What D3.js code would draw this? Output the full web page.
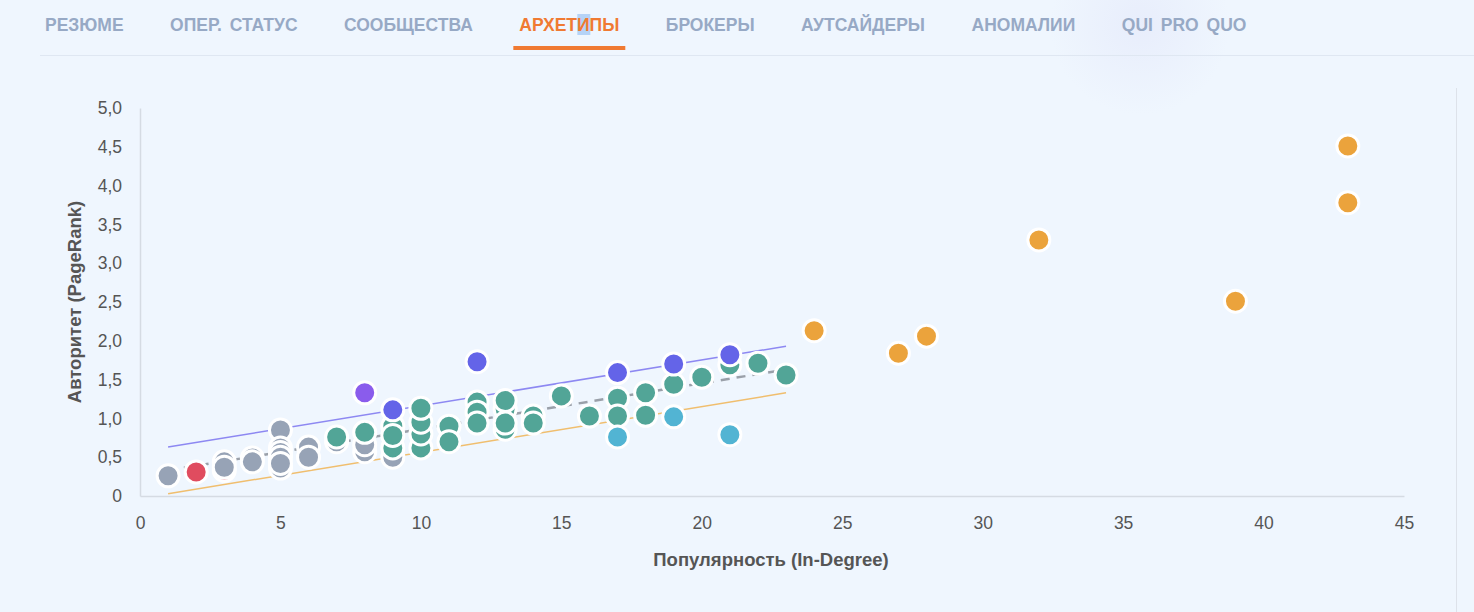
<!DOCTYPE html>
<html>
<head>
    <meta charset="utf-8">
    <title>Архетипы</title>
    <script src="https://d3js.org/d3.v7.min.js"></script>
    <style>
        body { margin: 0; background: #eff6fe; font-family: "Liberation Sans", Arial, sans-serif; }
        svg { display: block; }
        .tab { font-size: 17.5px; font-weight: bold; fill: #97a9c5; word-spacing: 3px; }
        .tab.active { fill: #f07a32; }
        .tick-label { font-size: 17.5px; fill: #555; }
        .axis-title { font-size: 18.5px; font-weight: bold; fill: #555; }
    </style>
</head>
<body>
<div id="chart"></div>
<script>
    // Tabs
    const tabs = ['РЕЗЮМЕ', 'ОПЕР. СТАТУС', 'СООБЩЕСТВА', 'АРХЕТИПЫ', 'БРОКЕРЫ', 'АУТСАЙДЕРЫ', 'АНОМАЛИИ', 'QUI PRO QUO'];
    const activeTab = 'АРХЕТИПЫ';

    // Axis ticks
    const xTicks = [0, 5, 10, 15, 20, 25, 30, 35, 40, 45];
    const yTicks = [0, 0.5, 1, 1.5, 2, 2.5, 3, 3.5, 4, 4.5, 5];

    // Points per archetype: [in-degree, pagerank], in drawing order
    const redPts = [[2, 0.31], [3, 0.33]];
    const grayPts = [
        [1, 0.26], [3, 0.44], [3, 0.37], [4, 0.49], [4, 0.44],
        [5, 0.85], [5, 0.62], [5, 0.56], [5, 0.50], [5, 0.36], [5, 0.42],
        [6, 0.63], [6, 0.50], [7, 0.70], [8, 0.57], [8, 0.66], [9, 0.50]
    ];
    const greenPts = [
        [7, 0.76], [8, 0.82],
        [9, 0.90], [9, 0.62], [9, 0.78],
        [10, 0.62], [10, 0.80], [10, 0.95], [10, 1.13],
        [11, 0.90], [11, 0.70],
        [12, 1.21], [12, 1.08], [12, 0.94],
        [13, 1.12], [13, 1.23], [13, 0.86], [13, 0.94],
        [14, 1.03], [14, 0.94],
        [15, 1.29], [16, 1.03],
        [17, 1.26], [17, 1.03], [18, 1.33], [18, 1.04],
        [19, 1.44], [20, 1.53], [21, 1.69], [22, 1.71], [23, 1.56]
    ];
    const lightBluePts = [[17, 0.76], [19, 1.02], [21, 0.79]];
    const bluePts = [[9, 1.11], [12, 1.73], [17, 1.59], [19, 1.70], [21, 1.82]];
    const purplePts = [[8, 1.33]];
    const orangePts = [[24, 2.13], [27, 1.84], [28, 2.06], [32, 3.30], [39, 2.51], [43, 3.78], [43, 4.51]];

    const groups = [
        { pts: redPts, color: '#e04c5f' },
        { pts: grayPts, color: '#97a3b6' },
        { pts: greenPts, color: '#52a597' },
        { pts: lightBluePts, color: '#52b4d3' },
        { pts: bluePts, color: '#6464e8' },
        { pts: purplePts, color: '#8a5cec' },
        { pts: orangePts, color: '#eba33c' }
    ];

    // Trend line (middle) and band offset
    const trendX = [1, 23];
    const trendY = [0.33, 1.63];
    const bandOffset = 0.30;

    const width = 1474, height = 612;
    const svg = d3.select('#chart').append('svg')
        .attr('width', width)
        .attr('height', height);

    // Soft glow in the corner
    const defs = svg.append('defs');
    const glow = defs.append('radialGradient').attr('id', 'glow');
    glow.append('stop').attr('offset', '0%').attr('stop-color', '#e6ebfb').attr('stop-opacity', 0.8);
    glow.append('stop').attr('offset', '100%').attr('stop-color', '#e6ebfb').attr('stop-opacity', 0);
    svg.append('circle').attr('cx', 1140).attr('cy', 25).attr('r', 90).attr('fill', 'url(#glow)');

    // Tab bar
    const tabG = svg.append('g');
    let tx = 45;
    tabs.forEach(t => {
        const el = tabG.append('text')
            .attr('class', 'tab' + (t === activeTab ? ' active' : ''))
            .attr('x', tx).attr('y', 31)
            .text(t);
        const w = el.node().getComputedTextLength();
        if (t === activeTab) {
            tabG.insert('rect', 'text')
                .attr('x', tx + 58).attr('y', 14).attr('width', 13).attr('height', 21)
                .attr('fill', '#b5d3f7');
            tabG.append('rect')
                .attr('x', tx - 6).attr('y', 46).attr('width', w + 12).attr('height', 4)
                .attr('fill', '#f07a32');
        }
        tx += w + 46.5;
    });
    svg.append('line')
        .attr('x1', 40).attr('x2', width).attr('y1', 55.5).attr('y2', 55.5)
        .attr('stroke', '#dfe7f2');

    // Card right border
    svg.append('line')
        .attr('x1', 1456.5).attr('x2', 1456.5).attr('y1', 88).attr('y2', height)
        .attr('stroke', '#dde2ea');

    // Scales
    const x = d3.scaleLinear().domain([0, 45]).range([140, 1404]);
    const y = d3.scaleLinear().domain([0, 5]).range([496, 108]);
    const fmt = v => v === 0 ? '0' : d3.format('.1f')(v).replace('.', ',');

    // Axes
    const xAxis = svg.append('g').attr('transform', `translate(0,${y(0)})`)
        .call(d3.axisBottom(x).tickValues(xTicks).tickSize(0).tickPadding(21).tickFormat(d3.format('d')));
    xAxis.select('.domain').attr('stroke', '#d5dbe3').attr('stroke-width', 1.5);
    xAxis.selectAll('.tick text').attr('class', 'tick-label').attr('font-family', null).attr('font-size', null).attr('fill', null);

    const yAxis = svg.append('g').attr('transform', `translate(${x(0)},0)`)
        .call(d3.axisLeft(y).tickValues(yTicks).tickSize(0).tickPadding(18).tickFormat(fmt));
    yAxis.select('.domain').attr('stroke', '#d5dbe3').attr('stroke-width', 1.5);
    yAxis.selectAll('.tick text').attr('class', 'tick-label').attr('font-family', null).attr('font-size', null).attr('fill', null);

    svg.append('text').attr('class', 'axis-title')
        .attr('x', 771).attr('y', 566).attr('text-anchor', 'middle')
        .text('Популярность (In-Degree)');
    svg.append('text').attr('class', 'axis-title')
        .attr('transform', `translate(81,${(y(0) + y(5)) / 2}) rotate(-90)`)
        .attr('text-anchor', 'middle')
        .text('Авторитет (PageRank)');

    // Trend lines
    const lines = [
        { off: bandOffset, color: '#8d88f2', w: 1.5, dash: null },
        { off: -bandOffset, color: '#f0be6e', w: 1.5, dash: null },
        { off: 0, color: '#9aa0a9', w: 2.5, dash: '9,7' }
    ];
    const lineGen = d3.line().x(d => x(d[0])).y(d => y(d[1]));
    lines.forEach(l => {
        svg.append('path')
            .datum(trendX.map((v, i) => [v, trendY[i] + l.off]))
            .attr('d', lineGen)
            .attr('fill', 'none')
            .attr('stroke', l.color)
            .attr('stroke-width', l.w)
            .attr('stroke-dasharray', l.dash);
    });

    // Points
    groups.forEach(g => {
        svg.append('g').selectAll('circle')
            .data(g.pts)
            .enter().append('circle')
            .attr('cx', d => x(d[0]))
            .attr('cy', d => y(d[1]))
            .attr('r', 11)
            .attr('fill', g.color)
            .attr('stroke', '#fff')
            .attr('stroke-width', 3);
    });
</script>
</body>
</html>
